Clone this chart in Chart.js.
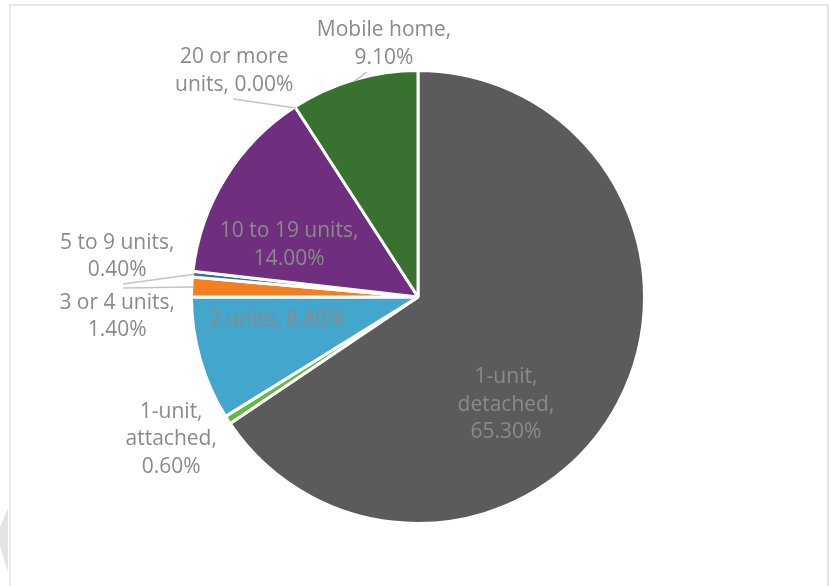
<!DOCTYPE html>
<html>
<head>
<meta charset="utf-8">
<title>Housing units by type</title>
<script src="https://cdn.jsdelivr.net/npm/chart.js@4/dist/chart.umd.min.js"></script>
<style>
  html, body { margin: 0; padding: 0; background: #fff; }
  #wrap { position: relative; width: 829px; height: 586px; overflow: hidden; }
  #frame {
    position: absolute; left: 9px; top: 4px; width: 816px; height: 620px;
    border-top: 2px solid #e8e8e8; border-left: 2px solid #ebebeb; border-right: 2px solid #e4e4e4;
  }
  #tab {
    position: absolute; left: 0; top: 508px; width: 8px; height: 64px; background: #e4e4e4;
    clip-path: polygon(100% 0, 0 30%, 0 60%, 100% 100%);
  }
  canvas { position: absolute; left: 0; top: 0; }
</style>
</head>
<body>
<div id="wrap">
  <div id="tab"></div>
  <div id="frame"></div>
  <canvas id="pieChart" width="829" height="586"></canvas>
</div>
<script>
  const categories = ["1-unit, detached", "1-unit, attached", "2 units", "3 or 4 units",
    "5 to 9 units", "10 to 19 units", "20 or more units", "Mobile home"];
  const shares = [65.3, 0.6, 8.8, 1.4, 0.4, 14.0, 0.0, 9.1];
  const sliceColors = ["#5b5b5b", "#64b946", "#43a6cc", "#f3801f", "#2f6fa7", "#6f2f7e", "#c00000", "#37722f"];

  // label placement, in units of the pie radius from its centre
  // wrap = max line width (px), lead = elbow of the leader line relative to label centre
  const labelLayout = [
    { dx: 0.391, dy: 0.478, wrap: 100 },
    { dx: -1.097, dy: 0.633, wrap: 100 },
    { dx: -0.627, dy: 0.102, wrap: 200 },
    { dx: -1.337, dy: 0.087, wrap: 150, lead: [6, -28.5] },
    { dx: -1.337, dy: -0.18, wrap: 150, lead: [6, 27.5] },
    { dx: -0.573, dy: -0.231, wrap: 170 },
    { dx: -0.817, dy: -1.004, wrap: 140, lead: [-1, 28] },
    { dx: -0.151, dy: -1.124, wrap: 140, lead: [-17, 28] }
  ];

  const FONT = '21px "Open Sans", sans-serif';
  const LINE_H = 27.5;

  function wrapText(ctx, text, maxW) {
    const words = text.split(" ");
    const lines = [];
    let cur = "";
    words.forEach(w => {
      const test = cur ? cur + " " + w : w;
      if (cur && ctx.measureText(test).width > maxW) {
        lines.push(cur);
        cur = w;
      } else {
        cur = test;
      }
    });
    if (cur) lines.push(cur);
    return lines;
  }

  const pieLabels = {
    id: "pieLabels",
    afterDraw(chart) {
      const ctx = chart.ctx;
      const arcs = chart.getDatasetMeta(0).data;
      ctx.save();
      ctx.font = FONT;
      ctx.textAlign = "center";
      ctx.textBaseline = "middle";
      arcs.forEach((arc, i) => {
        const { x, y, startAngle, endAngle, outerRadius } = arc.getProps(["x", "y", "startAngle", "endAngle", "outerRadius"], true);
        const R = outerRadius - 1.5;
        const lay = labelLayout[i];
        const lx = x + lay.dx * R;
        const ly = y + lay.dy * R;

        if (lay.lead) {
          const mid = (startAngle + endAngle) / 2;
          ctx.strokeStyle = "#c4c4c4";
          ctx.lineWidth = 1.5;
          ctx.beginPath();
          ctx.moveTo(x + Math.cos(mid) * R, y + Math.sin(mid) * R);
          ctx.lineTo(lx + lay.lead[0], ly + lay.lead[1]);
          ctx.stroke();
        }

        const text = categories[i] + ", " + shares[i].toFixed(2) + "%";
        const lines = wrapText(ctx, text, lay.wrap);
        ctx.fillStyle = "#8a8a8a";
        const top = ly - (lines.length - 1) * LINE_H / 2;
        lines.forEach((ln, k) => ctx.fillText(ln, lx, top + k * LINE_H));
      });
      ctx.restore();
    }
  };

  new Chart(document.getElementById("pieChart").getContext("2d"), {
    type: "pie",
    data: {
      labels: categories,
      datasets: [{
        data: shares,
        backgroundColor: sliceColors,
        borderColor: "#ffffff",
        borderWidth: 3
      }]
    },
    options: {
      responsive: false,
      animation: false,
      layout: { padding: { left: 7, right: 0, top: 69, bottom: 61 } },
      plugins: {
        legend: { display: false },
        tooltip: { enabled: false }
      }
    },
    plugins: [pieLabels]
  });
</script>
</body>
</html>
